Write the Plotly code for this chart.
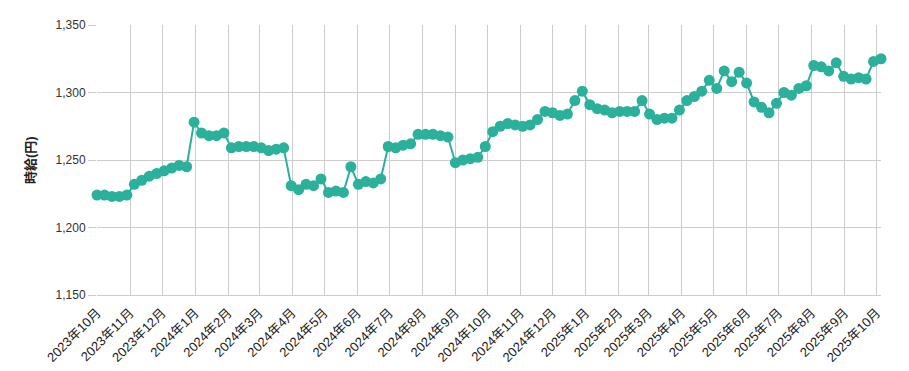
import datetime as dt
import plotly.graph_objects as go

start_date = "2023-10-01"
n_weeks = 106
wages = [
    1224, 1224, 1223, 1223, 1224, 1232, 1235, 1238, 1240, 1242,
    1244, 1246, 1245, 1278, 1270, 1268, 1268, 1270, 1259, 1260,
    1260, 1260, 1259, 1257, 1258, 1259, 1231, 1228, 1232, 1231,
    1236, 1226, 1227, 1226, 1245, 1232, 1234, 1233, 1236, 1260,
    1259, 1261, 1262, 1269, 1269, 1269, 1268, 1267, 1248, 1250,
    1251, 1252, 1260, 1271, 1275, 1277, 1276, 1275, 1276, 1280,
    1286, 1285, 1283, 1284, 1294, 1301, 1291, 1288, 1287, 1285,
    1286, 1286, 1286, 1294, 1284, 1280, 1281, 1281, 1287, 1294,
    1297, 1301, 1309, 1303, 1316, 1308, 1315, 1307, 1293, 1289,
    1285, 1292, 1300, 1298, 1303, 1305, 1320, 1319, 1316, 1322,
    1312, 1310, 1311, 1310, 1323, 1325,
]
month_ticks = [
    "2023-10-01", "2023-11-01", "2023-12-01", "2024-01-01", "2024-02-01",
    "2024-03-01", "2024-04-01", "2024-05-01", "2024-06-01", "2024-07-01",
    "2024-08-01", "2024-09-01", "2024-10-01", "2024-11-01", "2024-12-01",
    "2025-01-01", "2025-02-01", "2025-03-01", "2025-04-01", "2025-05-01",
    "2025-06-01", "2025-07-01", "2025-08-01", "2025-09-01", "2025-10-01",
]
month_labels = [
    "2023年10月", "2023年11月", "2023年12月", "2024年1月", "2024年2月",
    "2024年3月", "2024年4月", "2024年5月", "2024年6月", "2024年7月",
    "2024年8月", "2024年9月", "2024年10月", "2024年11月", "2024年12月",
    "2025年1月", "2025年2月", "2025年3月", "2025年4月", "2025年5月",
    "2025年6月", "2025年7月", "2025年8月", "2025年9月", "2025年10月",
]
y_ticks = [1150, 1200, 1250, 1300, 1350]
y_title = "時給(円)"

d0 = dt.date.fromisoformat(start_date)
dates = [d0 + dt.timedelta(weeks=i) for i in range(n_weeks)]

color = "#2bb09b"
grid = "#cccccc"
font_family = "Liberation Sans, Arial, Noto Sans CJK JP, sans-serif"

# page body has an 8px default margin
ML, MR, MT, MB = 89, 28, 17, 76
W, H = 901, 363

fig = go.Figure(go.Scatter(
    x=dates, y=wages, mode="lines+markers",
    line=dict(color=color, width=2),
    marker=dict(color=color, size=11),
    cliponaxis=False,
    hoverinfo="x+y",
))

fig.update_layout(
    width=W, height=H,
    margin=dict(l=ML, r=MR, t=MT, b=MB, autoexpand=False),
    paper_bgcolor="white", plot_bgcolor="white",
    showlegend=False,
    font=dict(family=font_family, size=12, color="#333333"),
)
fig.update_xaxes(
    type="date",
    range=[dates[0], dates[-1]],
    tickmode="array", tickvals=month_ticks, ticktext=month_labels,
    tickangle=-45,
    automargin=False,
    showgrid=True, gridcolor=grid, gridwidth=1,
    showline=True, linecolor=grid, linewidth=1,
    ticks="outside", ticklen=4, tickcolor="rgba(0,0,0,0)",
    zeroline=False,
    tickfont=dict(size=13, color="#222222"),
)
fig.update_yaxes(
    range=[1150, 1350],
    tickmode="array", tickvals=y_ticks,
    tickformat=",d",
    automargin=False,
    showgrid=True, gridcolor=grid, gridwidth=1,
    showline=False,
    ticks="outside", ticklen=8, tickcolor=grid,
    zeroline=False,
    tickfont=dict(size=12, color="#333333"),
)
fig.add_annotation(
    text="<b>" + y_title + "</b>",
    xref="paper", yref="paper",
    x=-(ML - 22) / (W - ML - MR), y=0.5,
    xanchor="center", yanchor="middle",
    textangle=-90, showarrow=False,
    font=dict(size=13, color="#222222"),
)

fig.write_html("out.html")
